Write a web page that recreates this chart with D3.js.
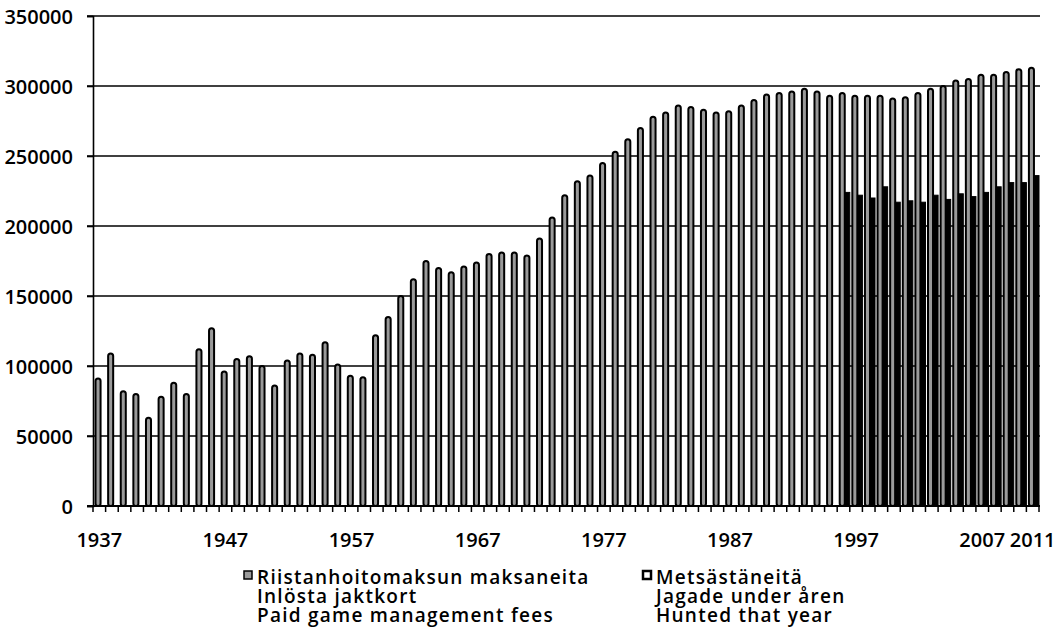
<!DOCTYPE html>
<html>
<head>
<meta charset="utf-8">
<script src="https://cdn.jsdelivr.net/npm/d3@7"></script>
<style>
  body { margin: 0; background: #fff; }
  svg text { font-family: "Open Sans", "DejaVu Sans", sans-serif; font-weight: 600; fill: #000; }
</style>
</head>
<body>
<svg id="chart" width="1059" height="632"></svg>
<script>
// years on the x axis
var years = [1937, 1938, 1939, 1940, 1941, 1942, 1943, 1944, 1945, 1946,
  1947, 1948, 1949, 1950, 1951, 1952, 1953, 1954, 1955, 1956,
  1957, 1958, 1959, 1960, 1961, 1962, 1963, 1964, 1965, 1966,
  1967, 1968, 1969, 1970, 1971, 1972, 1973, 1974, 1975, 1976,
  1977, 1978, 1979, 1980, 1981, 1982, 1983, 1984, 1985, 1986,
  1987, 1988, 1989, 1990, 1991, 1992, 1993, 1994, 1995, 1996,
  1997, 1998, 1999, 2000, 2001, 2002, 2003, 2004, 2005, 2006,
  2007, 2008, 2009, 2010, 2011];

// paid game management fees (light bars)
var feesPaid = [91000, 109000, 82000, 80000, 63000, 78000, 88000, 80000, 112000, 127000,
  96000, 105000, 107000, 100000, 86000, 104000, 109000, 108000, 117000, 101000,
  93000, 92000, 122000, 135000, 150000, 162000, 175000, 170000, 167000, 171000,
  174000, 180000, 181000, 181000, 179000, 191000, 206000, 222000, 232000, 236000,
  245000, 253000, 262000, 270000, 278000, 281000, 286000, 285000, 283000, 281000,
  282000, 286000, 290000, 294000, 295000, 296000, 298000, 296000, 293000, 295000,
  293000, 293000, 293000, 291000, 292000, 295000, 298000, 300000, 304000, 305000,
  308000, 308000, 310000, 312000, 313000];

// hunted that year (dark bars), recorded from 1996
var huntedYears = [1996, 1997, 1998, 1999, 2000, 2001, 2002, 2003,
  2004, 2005, 2006, 2007, 2008, 2009, 2010, 2011];
var hunted = [224000, 222000, 220000, 228000, 217000, 218000, 217000, 222000,
  219000, 223000, 221000, 224000, 228000, 231000, 231000, 236000];

var yTicks = [0, 50000, 100000, 150000, 200000, 250000, 300000, 350000];
var xLabels = [1937, 1947, 1957, 1967, 1977, 1987, 1997, 2007, 2011];

var series = ["fees", "hunted"];
var legendLines = [
  ["Riistanhoitomaksun maksaneita", "Inlösta jaktkort", "Paid game management fees"],
  ["Metsästäneitä", "Jagade under åren", "Hunted that year"]
];

var svg = d3.select("#chart"),
  plotLeft = 93, plotRight = 1039, plotTop = 16, plotBottom = 506;

var x = d3.scaleBand().domain(years).range([plotLeft, plotRight]).padding(0);
var inner = d3.scaleBand().domain(series).range([x.bandwidth() * 0.2, x.bandwidth()]).padding(0);
var y = d3.scaleLinear().domain([0, 350000]).range([plotBottom, plotTop]);

// gridlines
svg.append("g")
  .attr("class", "grid")
  .selectAll("line")
  .data(yTicks)
  .enter().append("line")
  .attr("x1", plotLeft - 6)
  .attr("x2", plotRight + 1)
  .attr("y1", function(d) { return y(d); })
  .attr("y2", function(d) { return y(d); })
  .attr("stroke", "#000")
  .attr("stroke-width", 1.7);

// y axis
var yAxis = svg.append("g")
  .attr("transform", "translate(" + plotLeft + ",0)")
  .call(d3.axisLeft(y).tickValues(yTicks).tickSize(6).tickFormat(d3.format("d")));
yAxis.select(".domain").attr("stroke-width", 1.6);
yAxis.selectAll(".tick line").attr("stroke-width", 1.6);
yAxis.selectAll("text")
  .attr("x", -20)
  .attr("dy", "0.36em")
  .style("font-size", "20px")
  .style("font-family", "Open Sans")
  .style("font-weight", 600);

// x axis ticks at band edges
var xAxis = svg.append("g")
  .attr("transform", "translate(0," + plotBottom + ")");
xAxis.selectAll("line")
  .data(years.concat([null]))
  .enter().append("line")
  .attr("x1", function(d, i) { return plotLeft + i * x.step(); })
  .attr("x2", function(d, i) { return plotLeft + i * x.step(); })
  .attr("y1", 0)
  .attr("y2", 6)
  .attr("stroke", "#000")
  .attr("stroke-width", 1.5);
xAxis.selectAll("text")
  .data(xLabels)
  .enter().append("text")
  .attr("x", function(d) { return x(d) + x.bandwidth() / 2; })
  .attr("y", 41)
  .attr("text-anchor", "middle")
  .style("font-size", "20px")
  .text(function(d) { return d; });

// light bars
svg.append("g")
  .attr("class", "fees")
  .selectAll("rect")
  .data(years)
  .enter().append("rect")
  .attr("x", function(d) { return x(d) + inner("fees"); })
  .attr("width", inner.bandwidth())
  .attr("y", function(d, i) { return y(feesPaid[i]); })
  .attr("height", function(d, i) { return plotBottom - y(feesPaid[i]); })
  .attr("rx", 2.5)
  .attr("fill", "#9a9a9a")
  .attr("stroke", "#000")
  .attr("stroke-width", 2);

// dark bars
svg.append("g")
  .attr("class", "hunted")
  .selectAll("rect")
  .data(huntedYears)
  .enter().append("rect")
  .attr("x", function(d) { return x(d) + inner("hunted"); })
  .attr("width", inner.bandwidth())
  .attr("y", function(d, i) { return y(hunted[i]); })
  .attr("height", function(d, i) { return plotBottom - y(hunted[i]); })
  .attr("fill", "#000")
  .attr("stroke", "#000")
  .attr("stroke-width", 1);

// baseline on top
svg.append("line")
  .attr("x1", plotLeft - 6).attr("x2", plotRight + 1)
  .attr("y1", plotBottom).attr("y2", plotBottom)
  .attr("stroke", "#000").attr("stroke-width", 1.8);

// legend
var legendX = [244, 643];
var legend = svg.append("g").attr("class", "legend");
legendLines.forEach(function(lines, k) {
  legend.append("rect")
    .attr("x", legendX[k])
    .attr("y", 571)
    .attr("width", 8)
    .attr("height", 8)
    .attr("fill", k === 0 ? "#9a9a9a" : "#fff")
    .attr("stroke", "#000")
    .attr("stroke-width", k === 0 ? 1.5 : 2.5);
  legend.selectAll("text.l" + k)
    .data(lines)
    .enter().append("text")
    .attr("class", "l" + k)
    .attr("x", legendX[k] + 13)
    .attr("y", function(d, i) { return 584 + i * 19; })
    .style("font-size", "19px")
    .style("letter-spacing", "1.25px")
    .text(function(d) { return d; });
});
</script>
</body>
</html>
